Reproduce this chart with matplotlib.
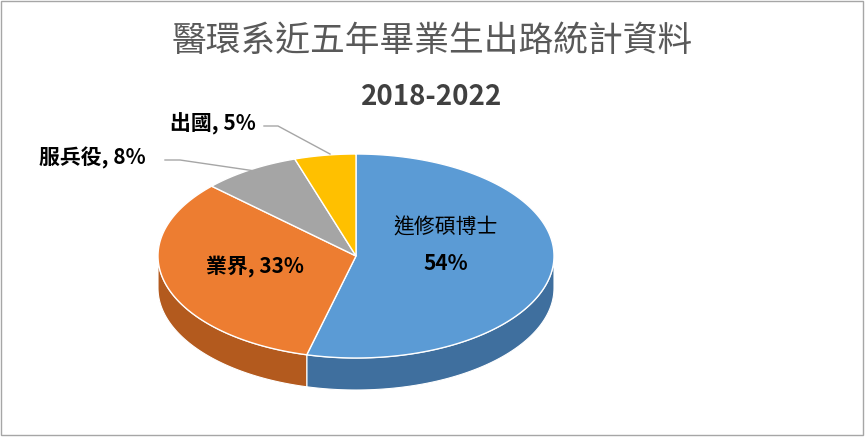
import numpy as np
import matplotlib
matplotlib.use("Agg")
import matplotlib.pyplot as plt
from matplotlib.patches import Polygon, Rectangle

plt.rcParams['font.family'] = ['Noto Sans CJK TC', 'DejaVu Sans']

categories = ['進修碩博士', '業界', '服兵役', '出國']
values = [54, 33, 8, 5]
top_colors = ['#5B9BD5', '#ED7D31', '#A5A5A5', '#FFC000']
side_colors = ['#3F6F9E', '#B35A1E', '#7A7A7A', '#C49300']

W, H = 865, 437
fig = plt.figure(figsize=(W/100, H/100), dpi=100)
ax = fig.add_axes([0, 0, 1, 1])
ax.set_xlim(0, W); ax.set_ylim(H, 0); ax.axis('off')
ax.add_patch(Rectangle((1, 1), W-3, H-3, fill=False, ec='#A6A6A6', lw=1))

cx, cy, rx, ry, depth = 356, 256, 198, 102, 32

def pt(t, dy=0):
    return cx + rx*np.sin(t), cy - ry*np.cos(t) + dy

total = sum(values)
bounds = np.cumsum([0] + values) / total * 2*np.pi

for i in range(len(values)):
    a, b = max(bounds[i], np.pi/2), min(bounds[i+1], 3*np.pi/2)
    if b <= a:
        continue
    t = np.linspace(a, b, 80)
    xs, ys = pt(t)
    xs2, ys2 = pt(t[::-1], depth)
    poly = np.column_stack([np.r_[xs, xs2], np.r_[ys, ys2]])
    ax.add_patch(Polygon(poly, closed=True, fc=side_colors[i], ec='white', lw=0.8))

for i in range(len(values)):
    t = np.linspace(bounds[i], bounds[i+1], 200)
    xs, ys = pt(t)
    poly = np.column_stack([np.r_[cx, xs], np.r_[cy, ys]])
    ax.add_patch(Polygon(poly, closed=True, fc=top_colors[i], ec='white', lw=1))

ax.text(432, 42, '醫環系近五年畢業生出路統計資料', ha='center', va='center',
        fontsize=25, color='#595959')
ax.text(432, 97, '2018-2022', ha='center', va='center', fontsize=20,
        fontweight='bold', color='#404040')

fs = 15
ax.text(446, 228, categories[0], ha='center', va='center', fontsize=fs, color='black')
ax.text(446, 264, f'{values[0]}%', ha='center', va='center', fontsize=fs,
        fontweight='bold', color='black')
ax.text(255, 266, f'{categories[1]}, {values[1]}%', ha='center', va='center',
        fontsize=fs, fontweight='bold', color='black')
ax.text(92, 158, f'{categories[2]}, {values[2]}%', ha='center', va='center',
        fontsize=fs, fontweight='bold', color='black')
ax.text(213, 124, f'{categories[3]}, {values[3]}%', ha='center', va='center',
        fontsize=fs, fontweight='bold', color='black')

ax.plot([165, 180, 262], [160, 160, 172], color='#A6A6A6', lw=1)
ax.plot([264, 278, 330], [126, 126, 154], color='#A6A6A6', lw=1)

fig.savefig('out.png', dpi=100)
